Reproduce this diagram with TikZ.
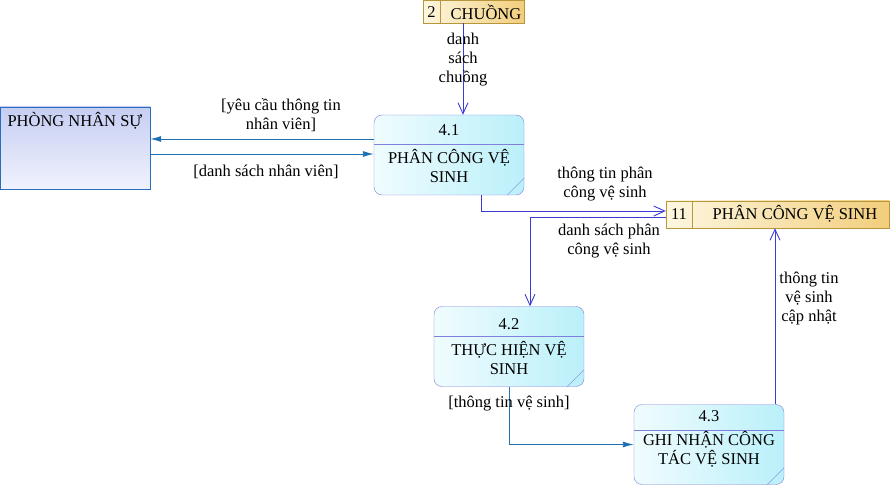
\documentclass[tikz,border=0pt]{standalone}
\usepackage{fontspec}
\setmainfont{Liberation Serif}
\usetikzlibrary{arrows.meta}
\definecolor{procline}{RGB}{128,128,220}
\definecolor{procleft}{RGB}{240,252,254}
\definecolor{procright}{RGB}{186,240,250}
\definecolor{storeline}{RGB}{184,150,60}
\definecolor{storeleft}{RGB}{253,247,224}
\definecolor{storeright}{RGB}{242,206,124}
\definecolor{entline}{RGB}{40,110,190}
\definecolor{enttop}{RGB}{198,206,242}
\definecolor{entbottom}{RGB}{240,242,253}
\definecolor{tealflow}{RGB}{30,112,180}
\definecolor{blueflow}{RGB}{60,60,210}
\tikzset{
  proc/.style={draw=procline,rounded corners=8pt,left color=procleft,right color=procright,
    minimum width=150pt,minimum height=80pt,inner sep=0pt},
  store/.style={draw=storeline,left color=storeleft,right color=storeright,inner sep=0pt},
  extent/.style={draw=entline,top color=enttop,bottom color=entbottom,
    minimum width=150pt,minimum height=82pt,inner sep=0pt},
  tflow/.style={draw=tealflow,line width=0.9pt,-{Latex[length=11pt,width=6pt]}},
  bflow/.style={draw=blueflow,line width=0.9pt,-{Straight Barb[length=11pt,width=10pt]}},
  lbl/.style={align=center,inner sep=0pt}
}
\begin{document}
\begin{tikzpicture}[x=1pt,y=-1pt,font=\fontsize{16.5}{19}\selectfont]
    \useasboundingbox (0,0) rectangle (890,486);
    \node[extent] (pns) at (75,148) {};
    \node[anchor=west] at (4,121) {PHÒNG NHÂN SỰ};
    \node[store,minimum width=101pt,minimum height=23pt] (st2) at (473.5,11.5) {};
    \draw[storeline] ([xshift=17pt]st2.north west) -- ([xshift=17pt]st2.south west);
    \node at (431.5,12) {2};
    \node at (486,12) {CHUỒNG};
    \node[store,minimum width=223pt,minimum height=27pt] (st11) at (777.5,214.5) {};
    \draw[storeline] ([xshift=26pt]st11.north west) -- ([xshift=26pt]st11.south west);
    \node at (679,214) {11};
    \node at (795,214) {PHÂN CÔNG VỆ SINH};
    \node[proc] (p41) at (449,155) {};
    \draw[procline] ([yshift=-29pt]p41.north west) -- ([yshift=-29pt]p41.north east);
    \draw[procline] ([xshift=-17pt]p41.south east) -- ([yshift=17pt]p41.south east);
    \node at (449,130) {4.1};
    \node[lbl] at (449,166) {PHÂN CÔNG VỆ\\SINH};
    \node[proc] (p42) at (509,346.5) {};
    \draw[procline] ([yshift=-30pt]p42.north west) -- ([yshift=-30pt]p42.north east);
    \draw[procline] ([xshift=-17pt]p42.south east) -- ([yshift=17pt]p42.south east);
    \node at (509,324) {4.2};
    \node[lbl] at (509,358) {THỰC HIỆN VỆ\\SINH};
    \node[proc] (p43) at (709,444.5) {};
    \draw[procline] ([yshift=-26pt]p43.north west) -- ([yshift=-26pt]p43.north east);
    \draw[procline] ([xshift=-17pt]p43.south east) -- ([yshift=17pt]p43.south east);
    \node at (709,416) {4.3};
    \node[lbl] at (709,449.5) {GHI NHẬN CÔNG\\TÁC VỆ SINH};
    \coordinate (c1) at ([xshift=-10.5pt]st2.south);
    \draw[bflow] (c1) -- (c1 |- p41.north);
    \node[lbl] at (463,60) {danh\\sách\\chuồng};
    \coordinate (c2) at ([yshift=9pt]pns.east);
    \coordinate (c3) at ([yshift=-6pt]pns.east);
    \draw[tflow] (c2 -| p41.west) -- (c2);
    \draw[tflow] (c3) -- (c3 -| p41.west);
    \node[lbl] at (281,115) {[yêu cầu thông tin\\nhân viên]};
    \node[lbl] at (266,172) {[danh sách nhân viên]};
    \draw[bflow] ([xshift=32pt]p41.south) |- ([yshift=3.5pt]st11.west);
    \node[lbl] at (605,184) {thông tin phân\\công vệ sinh};
    \draw[bflow] ([yshift=-2.5pt]st11.west) -| ([xshift=21pt]p42.north);
    \node[lbl] at (609,241) {danh sách phân\\công vệ sinh};
    \draw[tflow] (p42.south) |- (p43.west);
    \node[lbl] at (509,404) {[thông tin vệ sinh]};
    \coordinate (c4) at ([xshift=66pt]p43.north);
    \draw[bflow] (c4) -- (c4 |- st11.south);
    \node[lbl] at (809,299) {thông tin\\vệ sinh\\cập nhật};
\end{tikzpicture}
\end{document}
